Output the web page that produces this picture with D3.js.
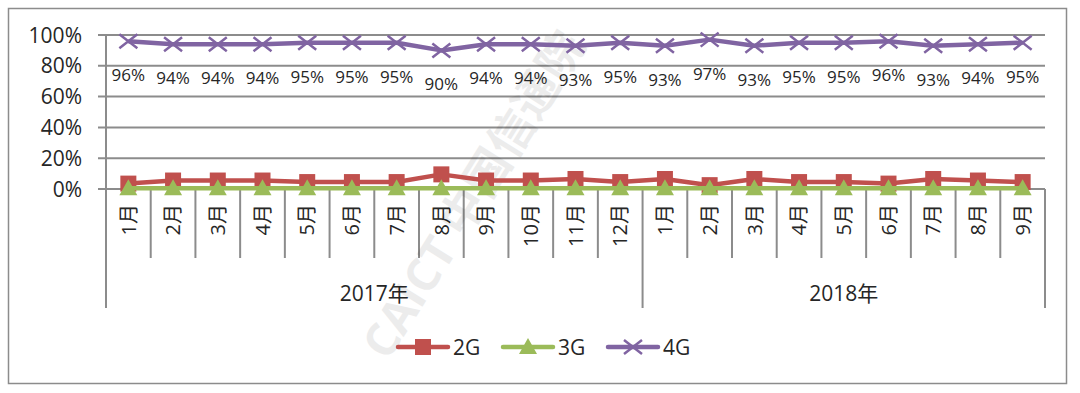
<!DOCTYPE html>
<html>
<head>
<meta charset="utf-8">
<script src="https://cdn.jsdelivr.net/npm/d3@7"></script>
<style>
  body { margin: 0; background: #fff; }
  svg { display: block; }
</style>
</head>
<body>
<div class="chart"></div>
<script>
const months = ["1月","2月","3月","4月","5月","6月","7月","8月","9月","10月","11月","12月",
                "1月","2月","3月","4月","5月","6月","7月","8月","9月"]
const years = [{ name: "2017年", count: 12 }, { name: "2018年", count: 9 }]
const g2 = [3.5, 5.5, 5.5, 5.5, 4.5, 4.5, 4.5, 9.5, 5.5, 5.5, 6.5, 4.5, 6.5, 2.5, 6.5, 4.5, 4.5, 3.5, 6.5, 5.5, 4.5]
const g3 = [0.5, 0.5, 0.5, 0.5, 0.5, 0.5, 0.5, 0.5, 0.5, 0.5, 0.5, 0.5, 0.5, 0.5, 0.5, 0.5, 0.5, 0.5, 0.5, 0.5, 0.5]
const g4 = [96, 94, 94, 94, 95, 95, 95, 90, 94, 94, 93, 95, 93, 97, 93, 95, 95, 96, 93, 94, 95]
const yTicks = [0, 20, 40, 60, 80, 100]

const width = 1080
const height = 393
const plotLeft = 106, plotRight = 1045, plotTop = 35, plotBottom = 189
const font = "'Open Sans', 'Noto Sans CJK SC', sans-serif"
const gridColor = "#8c8c8c"
const textColor = "#262626"

const svg = d3.select(".chart").append("svg")
  .attr("width", width)
  .attr("height", height)

// outer border
svg.append("rect")
  .attr("x", 8.5).attr("y", 8.5)
  .attr("width", 1058).attr("height", 375)
  .attr("fill", "none")
  .attr("stroke", "#8c8c8c")
  .attr("stroke-width", 1.5)

const x = d3.scaleBand()
  .domain(d3.range(months.length))
  .range([plotLeft, plotRight])

const y = d3.scaleLinear()
  .domain([0, 100])
  .range([plotBottom, plotTop])

// gridlines
svg.append("g")
  .selectAll("line")
  .data(yTicks)
  .enter()
  .append("line")
  .attr("x1", plotLeft - 8).attr("x2", plotRight)
  .attr("y1", d => y(d)).attr("y2", d => y(d))
  .attr("stroke", gridColor)
  .attr("stroke-width", 2)

// y labels
svg.append("g")
  .selectAll("text")
  .data(yTicks)
  .enter()
  .append("text")
  .attr("x", 82)
  .attr("y", d => y(d))
  .attr("dy", "0.36em")
  .attr("text-anchor", "end")
  .style("font-family", font)
  .style("font-size", "21px")
  .attr("fill", textColor)
  .text(d => d + "%")

// y axis line + bottom category structure
svg.append("line")
  .attr("x1", plotLeft).attr("x2", plotLeft)
  .attr("y1", plotTop).attr("y2", 308)
  .attr("stroke", gridColor).attr("stroke-width", 2)

svg.append("line")
  .attr("x1", plotRight).attr("x2", plotRight)
  .attr("y1", plotBottom).attr("y2", 308)
  .attr("stroke", gridColor).attr("stroke-width", 2)

// month separators
svg.append("g")
  .selectAll("line")
  .data(d3.range(1, months.length))
  .enter()
  .append("line")
  .attr("x1", d => x(d)).attr("x2", d => x(d))
  .attr("y1", plotBottom)
  .attr("y2", d => d === years[0].count ? 308 : 258)
  .attr("stroke", gridColor).attr("stroke-width", 2)

// month labels (rotated)
svg.append("g")
  .selectAll("text")
  .data(months)
  .enter()
  .append("text")
  .attr("transform", (d, i) => "translate(" + (x(i) + x.bandwidth() / 2) + ",204) rotate(-90)")
  .attr("dy", "0.36em")
  .attr("text-anchor", "end")
  .style("font-family", font)
  .style("font-size", "20px")
  .attr("fill", textColor)
  .text(d => d)

// year labels
let start = 0
years.forEach(yr => {
  const x0 = x(start)
  const x1 = x(start + yr.count - 1) + x.bandwidth()
  svg.append("text")
    .attr("x", (x0 + x1) / 2)
    .attr("y", 301)
    .attr("text-anchor", "middle")
    .style("font-family", font)
    .style("font-size", "21px")
    .attr("fill", textColor)
    .text(yr.name)
  start += yr.count
})

// watermark
svg.append("text")
  .attr("transform", "translate(388,362) rotate(-58)")
  .style("font-family", font)
  .style("font-size", "46px")
  .style("font-weight", "bold")
  .attr("fill", "#000")
  .attr("opacity", 0.07)
  .text("CAICT 中国信通院")

const cx = i => x(i) + x.bandwidth() / 2
const line = d3.line()
  .x((d, i) => cx(i))
  .y(d => y(d))

const series = [
  { name: "2G", data: g2, color: "#c0504d", marker: "square" },
  { name: "3G", data: g3, color: "#9bbb59", marker: "triangle" },
  { name: "4G", data: g4, color: "#8064a2", marker: "cross" }
]

function drawMarker(sel, type, color) {
  if (type === "square") {
    sel.append("rect")
      .attr("x", -8).attr("y", -8)
      .attr("width", 16).attr("height", 16)
      .attr("fill", color)
  } else if (type === "triangle") {
    sel.append("path")
      .attr("d", "M0,-9 L9,7 L-9,7 Z")
      .attr("fill", color)
  } else {
    sel.append("path")
      .attr("d", "M-9,-7 L9,7 M-9,7 L9,-7")
      .attr("stroke", color)
      .attr("stroke-width", 2.5)
  }
}

series.forEach(s => {
  svg.append("path")
    .datum(s.data)
    .attr("d", line)
    .attr("fill", "none")
    .attr("stroke", s.color)
    .attr("stroke-width", 4.5)
    .attr("stroke-linejoin", "round")

  svg.append("g")
    .selectAll("g")
    .data(s.data)
    .enter()
    .append("g")
    .attr("transform", (d, i) => "translate(" + cx(i) + "," + y(d) + ")")
    .each(function() { drawMarker(d3.select(this), s.marker, s.color) })
})

// 4G data labels
svg.append("g")
  .selectAll("text")
  .data(g4)
  .enter()
  .append("text")
  .attr("x", (d, i) => cx(i))
  .attr("y", d => y(d) + 40)
  .attr("text-anchor", "middle")
  .style("font-family", font)
  .style("font-size", "17px")
  .attr("fill", textColor)
  .text(d => d + "%")

// legend
const legend = svg.append("g")
  .selectAll("g")
  .data(series)
  .enter()
  .append("g")
  .attr("transform", (d, i) => "translate(" + (398 + i * 105) + ",347)")

legend.append("line")
  .attr("x1", 0).attr("x2", 50)
  .attr("stroke", d => d.color)
  .attr("stroke-width", 4.5)
  .attr("stroke-linecap", "round")

legend.append("g")
  .attr("transform", "translate(25,0)")
  .each(function(d) { drawMarker(d3.select(this), d.marker, d.color) })

legend.append("text")
  .attr("x", 55)
  .attr("dy", "0.36em")
  .style("font-family", font)
  .style("font-size", "21px")
  .attr("fill", textColor)
  .text(d => d.name)
</script>
</body>
</html>
